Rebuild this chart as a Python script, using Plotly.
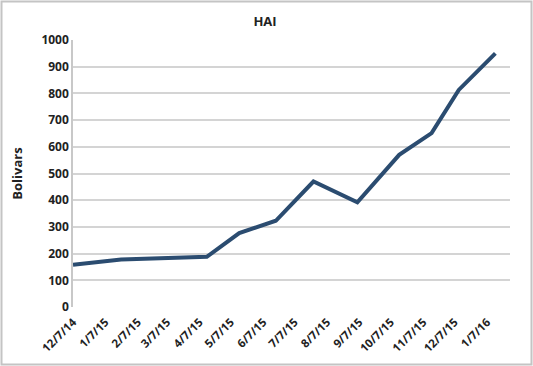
import plotly.graph_objects as go

dates = ["2014-12-07", "2015-01-22", "2015-04-14", "2015-05-15", "2015-06-19",
         "2015-07-25", "2015-09-05", "2015-10-15", "2015-11-15", "2015-12-11",
         "2016-01-15"]
values = [158, 178, 188, 277, 323, 470, 392, 570, 651, 813, 950]
tick_dates = ["2014-12-07", "2015-01-07", "2015-02-07", "2015-03-07", "2015-04-07",
              "2015-05-07", "2015-06-07", "2015-07-07", "2015-08-07", "2015-09-07",
              "2015-10-07", "2015-11-07", "2015-12-07", "2016-01-07"]
tick_labels = ["12/7/14", "1/7/15", "2/7/15", "3/7/15", "4/7/15", "5/7/15", "6/7/15",
               "7/7/15", "8/7/15", "9/7/15", "10/7/15", "11/7/15", "12/7/15", "1/7/16"]

W, H = 533, 366
L, R, T, B = 73, 510, 40, 307

fig = go.Figure()
fig.add_trace(go.Scatter(x=dates, y=values, mode="lines",
                         line=dict(color="#2b4c70", width=4), showlegend=False))

font_fam = "Open Sans, Lato, Liberation Sans, sans-serif"

fig.update_layout(
    width=W, height=H,
    margin=dict(l=L, r=W - R, t=T, b=H - B),
    paper_bgcolor="white", plot_bgcolor="white",
    title=dict(text="<b>HAI</b>", x=265 / W, xanchor="center", y=1 - 21 / H,
               yanchor="middle", font=dict(family=font_fam, size=13, color="#222")),
    xaxis=dict(type="date", range=["2014-12-07", "2016-01-29"],
               tickvals=tick_dates, ticktext=tick_labels, tickangle=-45,
               showgrid=False, showline=False, zeroline=False,
               tickfont=dict(family=font_fam, size=11.5, color="#222", weight="bold"),
               ticks="outside", ticklen=3, tickcolor="rgba(0,0,0,0)"),
    yaxis=dict(range=[0, 1000], dtick=100, showgrid=True, gridcolor="#d4d4d4",
               gridwidth=1.5, showline=True, linecolor="#c8c8c8", linewidth=1.5,
               zeroline=False,
               tickfont=dict(family=font_fam, size=12, color="#222", weight="bold"),
               title=dict(text="<b>Bolivars</b>", standoff=16,
                          font=dict(family=font_fam, size=13, color="#222"))),
)

pw = R - L
ph = B - T
def px_x(p):
    return (p - L) / pw
def px_y(p):
    return (B - p) / ph

fig.add_shape(type="rect", xref="paper", yref="paper",
              x0=px_x(1.5), x1=px_x(531.5), y0=px_y(364.5), y1=px_y(1.5),
              line=dict(color="#c4c4c4", width=2), fillcolor="rgba(0,0,0,0)",
              layer="below")

fig.write_html("out.html")
